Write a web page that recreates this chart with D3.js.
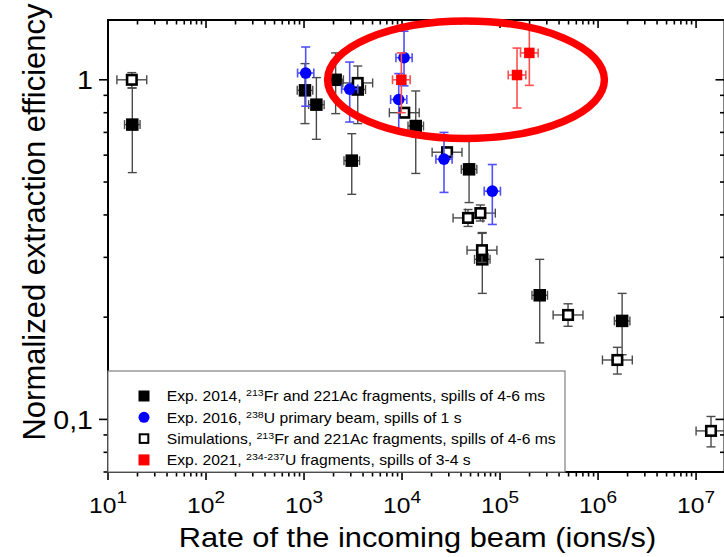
<!DOCTYPE html>
<html><head><meta charset="utf-8">
<script src="https://cdn.jsdelivr.net/npm/d3@7"></script>
<style>body{margin:0;background:#fff}svg{display:block}text{font-family:Arial,"Liberation Sans",sans-serif;fill:#000}</style>
</head><body><svg id="c" width="724" height="557"></svg>
<script>
// ---------- data ----------
const xTickDecades = [1, 2, 3, 4, 5, 6, 7];
const yTickLabels = [{v: 1, t: "1"}, {v: 0.1, t: "0,1"}];

// Exp. 2014 (filled black squares): rate, efficiency, lower / upper error
const exp2014 = [
  {x: 17.7,   y: 0.738, lo: 0.533, hi: 0.946},
  {x: 1023,   y: 0.931, lo: 0.743, hi: 1.116},
  {x: 1337,   y: 0.845, lo: 0.668, hi: 1.015},
  {x: 2102,   y: 1.0,   lo: 0.795, hi: 1.2},
  {x: 3069,   y: 0.578, lo: 0.46,  hi: 0.694},
  {x: 3533,   y: 0.936, lo: 0.743, hi: 1.098},
  {x: 13800,  y: 0.731, lo: 0.53,  hi: 0.927},
  {x: 48300,  y: 0.545, lo: 0.435, hi: 0.68},
  {x: 65900,  y: 0.296, lo: 0.235, hi: 0.355},
  {x: 254000, y: 0.232, lo: 0.168, hi: 0.296},
  {x: 1.76e6, y: 0.195, lo: 0.155, hi: 0.235}
];
// Exp. 2016 (blue circles)
const exp2016 = [
  {x: 1040,  y: 1.047, lo: 0.836, hi: 1.249},
  {x: 2924,  y: 0.939, lo: 0.751, hi: 1.128},
  {x: 10480, y: 1.162, lo: 0.96,  hi: 1.39},
  {x: 9250,  y: 0.875, lo: 0.71,  hi: 1.043},
  {x: 26800, y: 0.584, lo: 0.466, hi: 0.70},
  {x: 83400, y: 0.47,  lo: 0.375, hi: 0.563}
];
// Simulations (open squares)
const simulations = [
  {x: 17.5,   y: 1.0,    lo: 0.946, hi: 1.05},
  {x: 3530,   y: 0.979,  lo: 0.95,  hi: 1.01},
  {x: 10540,  y: 0.80,   lo: 0.775, hi: 0.826},
  {x: 28800,  y: 0.612,  lo: 0.59,  hi: 0.632},
  {x: 47100,  y: 0.392,  lo: 0.37,  hi: 0.415},
  {x: 63000,  y: 0.405,  lo: 0.384, hi: 0.428},
  {x: 65400,  y: 0.315,  lo: 0.29,  hi: 0.353},
  {x: 494000, y: 0.203,  lo: 0.188, hi: 0.219},
  {x: 1.574e6, y: 0.1496, lo: 0.136, hi: 0.163},
  {x: 1.42e7, y: 0.0925, lo: 0.083, hi: 0.102}
];
// Exp. 2021 (red squares)
const exp2021 = [
  {x: 9840,   y: 1.0,   lo: 0.80,  hi: 1.2},
  {x: 149000, y: 1.033, lo: 0.826, hi: 1.24},
  {x: 199000, y: 1.2,   lo: 0.963, hi: 1.41}
];
// multiplicative horizontal error (x/f .. x*f) per series
const xErrFactors = {exp2014: 1.2, exp2016: 1.21, simulations: 1.42, exp2021: 1.23};

const legendLabels = [
  {pre: "Exp. 2014, ", sup: "213", post: "Fr and 221Ac fragments, spills of 4-6 ms"},
  {pre: "Exp. 2016, ", sup: "238", post: "U primary beam, spills of 1 s"},
  {pre: "Simulations, ", sup: "213", post: "Fr and 221Ac fragments, spills of 4-6 ms"},
  {pre: "Exp. 2021, ", sup: "234-237", post: "U fragments, spills of 3-4 s"}
];
// highlighted region (ellipse) in data coordinates
const ellipseXRange = [1740, 1.16e6];
const ellipseYRange = [0.672, 1.49];

const xTitle = "Rate of the incoming beam (ions/s)";
const yTitle = "Normalized extraction efficiency";

// ---------- layout ----------
const L = 108, R = 724.5, T = 20, B = 472;
const SX = 1.12; // horizontal text stretch
const svg = d3.select("#c");
const x = d3.scaleLog().domain([10, 1.95e7]).range([L, R]);
const y = d3.scaleLog().domain([0.07, 1.5]).range([B, T]);

// ---------- axes frame + ticks ----------
const frame = svg.append("g").attr("stroke", "#000").attr("stroke-width", 2);
frame.append("line").attr("x1", L).attr("x2", R).attr("y1", B).attr("y2", B);
frame.append("line").attr("x1", L).attr("x2", R).attr("y1", T).attr("y2", T);
frame.append("line").attr("x1", L).attr("x2", L).attr("y1", T - 1).attr("y2", B + 1);
frame.append("line").attr("x1", R).attr("x2", R).attr("y1", T - 1).attr("y2", B + 1);

const xTicks = [];
for (let k = 1; k <= 7; k++) for (let m = 1; m <= 9; m++) {
  const v = m * Math.pow(10, k);
  if (v >= 10 && v <= 1.95e7) xTicks.push({v, major: m === 1});
}
const yTicks = [];
for (let k = -2; k <= 0; k++) for (let m = 1; m <= 9; m++) {
  const v = m * Math.pow(10, k);
  if (v >= 0.07 && v <= 1.5) yTicks.push({v, major: m === 1});
}
const tk = svg.append("g").attr("stroke", "#000").attr("stroke-width", 1.6);
xTicks.forEach(t => {
  const px = x(t.v), len = t.major ? 8 : 4.5;
  tk.append("line").attr("x1", px).attr("x2", px).attr("y1", B).attr("y2", B + len);
  tk.append("line").attr("x1", px).attr("x2", px).attr("y1", T).attr("y2", T + len);
});
yTicks.forEach(t => {
  const py = y(t.v), len = t.major ? 9 : 4.5;
  tk.append("line").attr("x1", L - len).attr("x2", L).attr("y1", py).attr("y2", py);
  tk.append("line").attr("x1", R - len).attr("x2", R).attr("y1", py).attr("y2", py);
});

// x tick labels 10^k
xTickDecades.forEach(k => {
  const g = svg.append("g").attr("transform", `translate(${x(Math.pow(10, k))},513) scale(${SX},1)`);
  const t = g.append("text").attr("text-anchor", "middle").style("font-size", "22px");
  t.append("tspan").text("10");
  t.append("tspan").attr("dy", -10).style("font-size", "17px").text(k);
});
// y tick labels
yTickLabels.forEach(d => {
  svg.append("g").attr("transform", `translate(93,${y(d.v)}) scale(${SX},1)`)
    .append("text").attr("text-anchor", "end").attr("dy", "0.36em")
    .style("font-size", "25.5px").text(d.t);
});
// axis titles
svg.append("g").attr("transform", `translate(417.5,547) scale(${SX},1)`)
  .append("text").attr("text-anchor", "middle").style("font-size", "27.5px").text(xTitle);
svg.append("text").attr("transform", "translate(45,222) rotate(-90)")
  .attr("text-anchor", "middle").style("font-size", "31px").text(yTitle);

// ---------- data series ----------
const plot = svg.append("g");
const series = [
  {data: exp2014, f: xErrFactors.exp2014, err: "#4a4a4a", ew: 1.4, shape: "square", size: 12.5, fill: "#000", stroke: "none"},
  {data: simulations, f: xErrFactors.simulations, err: "#4a4a4a", ew: 1.4, shape: "square", size: 9.5, fill: "#fff", stroke: "#000"},
  {data: exp2016, f: xErrFactors.exp2016, err: "#5050ff", ew: 1.6, shape: "circle", size: 11.6, fill: "#0000ff", stroke: "none"},
  {data: exp2021, f: xErrFactors.exp2021, err: "#ff5050", ew: 1.6, shape: "square", size: 10.5, fill: "#ff0000", stroke: "none"}
];
const cap = 4.5;
series.forEach(s => {
  const g = plot.append("g");
  const eg = g.append("g").attr("stroke", s.err).attr("stroke-width", s.ew).attr("fill", "none");
  s.data.forEach(d => {
    const px = x(d.x), py = y(d.y), yl = y(d.lo), yh = y(d.hi);
    const xl = x(d.x / s.f), xh = x(d.x * s.f);
    eg.append("line").attr("x1", px).attr("x2", px).attr("y1", yh).attr("y2", yl);
    eg.append("line").attr("x1", px - cap).attr("x2", px + cap).attr("y1", yh).attr("y2", yh);
    eg.append("line").attr("x1", px - cap).attr("x2", px + cap).attr("y1", yl).attr("y2", yl);
    eg.append("line").attr("x1", xl).attr("x2", xh).attr("y1", py).attr("y2", py);
    eg.append("line").attr("x1", xl).attr("x2", xl).attr("y1", py - cap).attr("y2", py + cap);
    eg.append("line").attr("x1", xh).attr("x2", xh).attr("y1", py - cap).attr("y2", py + cap);
  });
  s.data.forEach(d => {
    const px = x(d.x), py = y(d.y);
    if (s.shape === "circle") {
      g.append("circle").attr("cx", px).attr("cy", py).attr("r", s.size / 2).attr("fill", s.fill);
    } else {
      g.append("rect").attr("x", px - s.size / 2).attr("y", py - s.size / 2)
        .attr("width", s.size).attr("height", s.size).attr("fill", s.fill)
        .attr("stroke", s.stroke).attr("stroke-width", s.stroke === "none" ? 0 : 2.6);
    }
  });
});

// ---------- legend ----------
const lg = svg.append("g");
lg.append("rect").attr("x", L).attr("y", 371).attr("width", 565 - L).attr("height", B - 371)
  .attr("fill", "#fff").attr("stroke", "#808080").attr("stroke-width", 1.2);
const legendMarks = [
  {shape: "square", size: 11, fill: "#000", stroke: "none"},
  {shape: "circle", size: 11, fill: "#0000ff", stroke: "none"},
  {shape: "square", size: 8.6, fill: "#fff", stroke: "#000"},
  {shape: "square", size: 11, fill: "#ff0000", stroke: "none"}
];
legendLabels.forEach((d, i) => {
  const cy = 396 + i * 21.3, m = legendMarks[i];
  if (m.shape === "circle") lg.append("circle").attr("cx", 144).attr("cy", cy).attr("r", m.size / 2).attr("fill", m.fill);
  else lg.append("rect").attr("x", 144 - m.size / 2).attr("y", cy - m.size / 2).attr("width", m.size).attr("height", m.size)
    .attr("fill", m.fill).attr("stroke", m.stroke).attr("stroke-width", m.stroke === "none" ? 0 : 2);
  const t = lg.append("g").attr("transform", `translate(166.7,${cy + 5.2}) scale(${SX},1)`)
    .append("text").style("font-size", "14px");
  t.append("tspan").text(d.pre);
  t.append("tspan").attr("dy", -5).style("font-size", "9.5px").text(d.sup);
  t.append("tspan").attr("dy", 5).text(d.post);
});

// ---------- highlight ellipse ----------
const ex0 = x(ellipseXRange[0]), ex1 = x(ellipseXRange[1]);
const ey0 = y(ellipseYRange[1]), ey1 = y(ellipseYRange[0]);
svg.append("ellipse").attr("cx", (ex0 + ex1) / 2).attr("cy", (ey0 + ey1) / 2)
  .attr("rx", (ex1 - ex0) / 2).attr("ry", (ey1 - ey0) / 2)
  .attr("fill", "none").attr("stroke", "#ff0000").attr("stroke-width", 7.5);
</script></body></html>
